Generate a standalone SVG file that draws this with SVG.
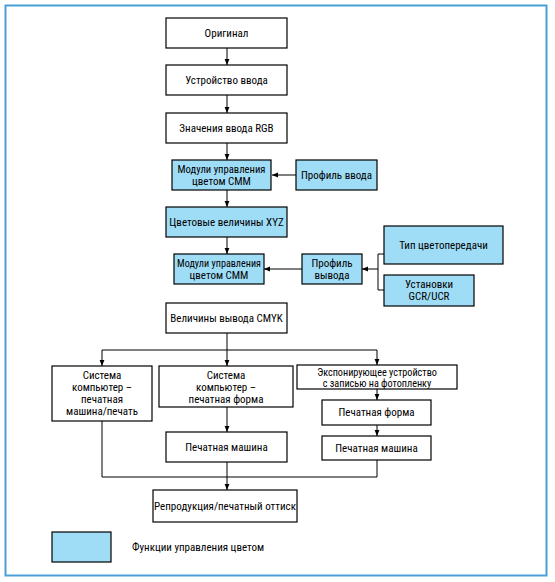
<svg xmlns="http://www.w3.org/2000/svg" width="555" height="582" viewBox="0 0 555 582">
<defs>
<marker id="ah" viewBox="0 0 6 6" refX="6" refY="3" markerWidth="6" markerHeight="6" markerUnits="userSpaceOnUse" orient="auto">
<path d="M0,0.6 L6,3 L0,5.4 Z" fill="#000"/>
</marker>
<style>
.b{fill:#fff;stroke:#000;stroke-width:1.2}
.c{fill:#9fdcf6;stroke:#000;stroke-width:1.2}
text{font-family:"Liberation Sans Narrow","Roboto Condensed","DejaVu Sans Condensed","Liberation Sans",sans-serif;font-size:11px;fill:#000;text-anchor:middle}
.s{font-size:10.2px}
.l{fill:none;stroke:#000;stroke-width:1}
.a{fill:none;stroke:#000;stroke-width:1;marker-end:url(#ah)}
</style>
</defs>
<rect x="0" y="0" width="555" height="582" fill="#fff"/>
<rect x="5.5" y="5.5" width="541" height="570" fill="none" stroke="#4a9fd8" stroke-width="2"/>
<g id="connectors">
<line class="a" x1="227" y1="48" x2="227" y2="65"/>
<line class="a" x1="227" y1="95" x2="227" y2="113"/>
<line class="a" x1="227" y1="143" x2="227" y2="160"/>
<line class="a" x1="296" y1="175" x2="272" y2="175"/>
<line class="a" x1="227" y1="190" x2="227" y2="207"/>
<line class="a" x1="227" y1="237" x2="227" y2="254"/>
<line class="a" x1="302" y1="269" x2="264" y2="269"/>
<polyline class="l" points="384,254 378,254 378,290 384,290"/>
<line class="a" x1="378" y1="269" x2="362" y2="269"/>
<line class="l" x1="227" y1="333" x2="227" y2="350"/>
<line class="l" x1="102" y1="350" x2="377" y2="350"/>
<line class="a" x1="102" y1="350" x2="102" y2="366"/>
<line class="a" x1="227" y1="350" x2="227" y2="366"/>
<line class="a" x1="377" y1="350" x2="377" y2="365"/>
<line class="a" x1="227" y1="407" x2="227" y2="432"/>
<line class="a" x1="377" y1="389" x2="377" y2="400"/>
<line class="a" x1="377" y1="425" x2="377" y2="436"/>
<polyline class="l" points="102,421 102,477 377,477 377,460"/>
<line class="a" x1="227" y1="462" x2="227" y2="490"/>
</g>
<g id="n-original"><rect class="b" x="166" y="18" width="121" height="30"/><text x="226.5" y="37">Оригинал</text></g>
<g id="n-input-device"><rect class="b" x="166" y="65" width="121" height="30"/><text x="226.5" y="84">Устройство ввода</text></g>
<g id="n-rgb"><rect class="b" x="166" y="113" width="121" height="30"/><text x="226.5" y="132">Значения ввода RGB</text></g>
<g id="n-cmm1"><rect class="c" x="172" y="160" width="99" height="30"/><text x="221.5" y="173" textLength="88" lengthAdjust="spacingAndGlyphs">Модули управления</text><text x="221.5" y="185">цветом CMM</text></g>
<g id="n-profile-in"><rect class="c" x="296" y="160" width="81" height="30"/><text x="336.5" y="179">Профиль ввода</text></g>
<g id="n-xyz"><rect class="c" x="166" y="207" width="121" height="30"/><text x="226.5" y="226">Цветовые величины XYZ</text></g>
<g id="n-cmm2"><rect class="c" x="174" y="254" width="90" height="30"/><text x="219" y="267" textLength="84" lengthAdjust="spacingAndGlyphs">Модули управления</text><text x="219" y="279">цветом CMM</text></g>
<g id="n-profile-out"><rect class="c" x="302" y="254" width="60" height="30"/><text x="332" y="267">Профиль</text><text x="332" y="279">вывода</text></g>
<g id="n-rendering"><rect class="c" x="384" y="226" width="119" height="38"/><text x="443.5" y="248.5">Тип цветопередачи</text></g>
<g id="n-gcr"><rect class="c" x="384" y="275" width="90" height="31"/><text x="429" y="288">Установки</text><text x="429" y="300">GCR/UCR</text></g>
<g id="n-cmyk"><rect class="b" x="166" y="303" width="121" height="30"/><text x="226.5" y="322">Величины вывода CMYK</text></g>
<g id="n-ctp-press"><rect class="b" x="52" y="366" width="100" height="55"/><text x="102" y="379">Система</text><text x="102" y="391">компьютер –</text><text x="102" y="403">печатная</text><text x="102" y="415">машина/печать</text></g>
<g id="n-ctp-plate"><rect class="b" x="159" y="366" width="134" height="41"/><text x="226" y="379">Система</text><text x="226" y="391">компьютер –</text><text x="226" y="403">печатная форма</text></g>
<g id="n-imagesetter"><rect class="b" x="297" y="365" width="160" height="24"/><text class="s" x="377" y="375.5">Экспонирующее устройство</text><text class="s" x="377" y="386.5">с записью на фотопленку</text></g>
<g id="n-plate-r"><rect class="b" x="322" y="400" width="109" height="25"/><text x="376.5" y="416">Печатная форма</text></g>
<g id="n-press-r"><rect class="b" x="322" y="436" width="109" height="24"/><text x="376.5" y="451.5">Печатная машина</text></g>
<g id="n-press-m"><rect class="b" x="166" y="432" width="121" height="30"/><text x="226.5" y="451">Печатная машина</text></g>
<g id="n-repro"><rect class="b" x="153" y="490" width="144" height="32"/><text x="225" y="510" textLength="142" lengthAdjust="spacingAndGlyphs">Репродукция/печатный оттиск</text></g>
<g id="legend"><rect class="c" x="52" y="532" width="59" height="30"/><text x="132" y="551" style="text-anchor:start">Функции управления цветом</text></g>
</svg>
